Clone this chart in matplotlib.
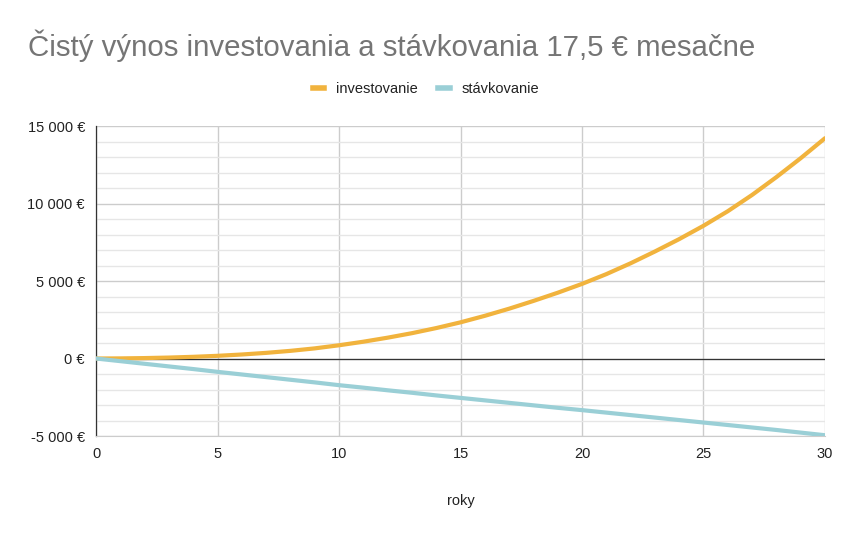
import matplotlib.pyplot as plt
from matplotlib.ticker import MultipleLocator, FuncFormatter
from matplotlib.lines import Line2D

plt.rcParams['font.family'] = ['Liberation Sans', 'DejaVu Sans']

# roky a hodnoty odčítané z grafu
roky = list(range(0, 31))
investovanie = [0, 8, 28, 61, 109, 174, 259, 364, 494, 654,
                854, 1084, 1344, 1634, 1964, 2334, 2754, 3214, 3714, 4244,
                4814, 5444, 6144, 6904, 7704, 8564, 9504, 10554, 11704, 12924,
                14214]
stavkovanie = [0, -170, -340, -510, -680, -860, -1030, -1200, -1370, -1540,
               -1720, -1880, -2050, -2210, -2380, -2540, -2700, -2860, -3020, -3180,
               -3330, -3490, -3650, -3810, -3970, -4130, -4290, -4450, -4610, -4780,
               -4950]

nazov = "Čistý výnos investovania a stávkovania 17,5 € mesačne"
farba_inv = "#f1b33d"
farba_stav = "#9acfd6"

fig = plt.figure(figsize=(8.52, 5.34), dpi=100)
ax = fig.add_axes([0.1127, 0.1835, 0.8556, 0.5805])

ax.plot(roky, investovanie, color=farba_inv, linewidth=3, solid_capstyle='round', zorder=4)
ax.plot(roky, stavkovanie, color=farba_stav, linewidth=3, solid_capstyle='round', zorder=4)

ax.set_xlim(0, 30)
ax.set_ylim(-5000, 15000)
ax.xaxis.set_major_locator(MultipleLocator(5))
ax.yaxis.set_major_locator(MultipleLocator(5000))
ax.yaxis.set_minor_locator(MultipleLocator(1000))

def eura(v, pos):
    return "{:,.0f} €".format(v).replace(",", " ")

ax.yaxis.set_major_formatter(FuncFormatter(eura))

ax.grid(which='major', color='#cccccc', linewidth=1)
ax.grid(which='minor', axis='y', color='#e6e6e6', linewidth=1)
ax.axhline(0, color='#333333', linewidth=0.9, zorder=3)
ax.set_axisbelow(True)

for s in ['top', 'right']:
    ax.spines[s].set_visible(False)
ax.spines['bottom'].set_color('#cccccc')
ax.spines['left'].set_color('#333333')
ax.spines['left'].set_linewidth(0.9)

ax.tick_params(which='both', length=0, labelsize=10.5, labelcolor='#222222')
ax.tick_params(axis='x', pad=8)
ax.tick_params(axis='y', pad=8)

ax.set_xlabel("roky", fontsize=10.5, color='#222222', labelpad=24)

fig.text(28 / 852, 1 - 45.5 / 534, nazov, fontsize=21.2, color='#757575', va='center', ha='left')

handles = [Line2D([], [], color=farba_inv, linewidth=4),
           Line2D([], [], color=farba_stav, linewidth=4)]
fig.legend(handles, ["investovanie", "stávkovanie"], loc='center',
           bbox_to_anchor=(426 / 852, 1 - 89 / 534), ncol=2, frameon=False,
           fontsize=10.5, handlelength=0.8, handletextpad=0.8, columnspacing=1.4,
           labelcolor='#222222')

fig.savefig("out.png", dpi=100)
